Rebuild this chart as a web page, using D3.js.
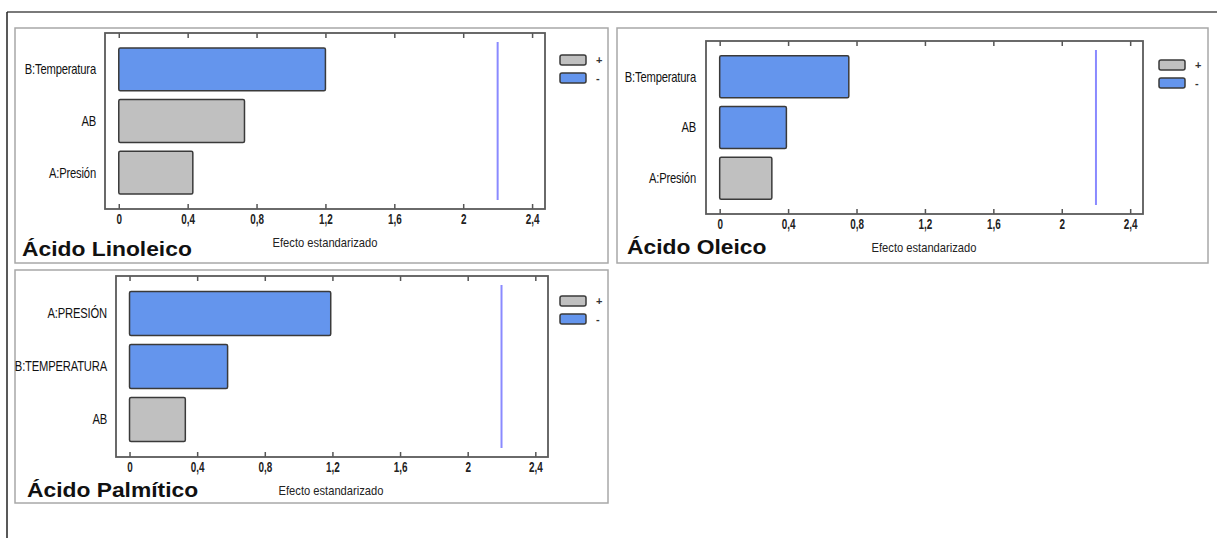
<!DOCTYPE html>
<html>
<head>
<meta charset="utf-8">
<script src="https://cdn.jsdelivr.net/npm/d3@7"></script>
<style>
  body { margin: 0; background: #fff; }
  text { font-family: "Liberation Sans", Arial, sans-serif; }
</style>
</head>
<body>
<div id="chart"></div>
<script>
// ---- data ----
const linoleicoTerms  = ["B:Temperatura", "AB", "A:Presión"];
const linoleicoValues = [1.20, 0.73, 0.43];
const linoleicoSigns  = ["-", "+", "+"];

const oleicoTerms  = ["B:Temperatura", "AB", "A:Presión"];
const oleicoValues = [0.755, 0.39, 0.305];
const oleicoSigns  = ["-", "-", "+"];

const palmiticoTerms  = ["A:PRESIÓN", "B:TEMPERATURA", "AB"];
const palmiticoValues = [1.19, 0.58, 0.33];
const palmiticoSigns  = ["-", "-", "+"];

const tickValues = [0, 0.4, 0.8, 1.2, 1.6, 2, 2.4];
const tickLabels = ["0", "0,4", "0,8", "1,2", "1,6", "2", "2,4"];
const criticalValue = 2.2;
const legendSigns = ["+", "-"];
const axisTitle = "Efecto estandarizado";

const colors = { "+": "#c0c0c0", "-": "#6495ed" };

// layout of each panel (pixels)
const panels = [
  { title: "Ácido Linoleico", terms: linoleicoTerms, values: linoleicoValues, signs: linoleicoSigns,
    box: [15, 28, 608, 263], plot: [105, 33, 545, 209], labelX: 96,
    titlePos: [22, 256], axisTitlePos: [325, 247], legend: [560, 55] },
  { title: "Ácido Oleico", terms: oleicoTerms, values: oleicoValues, signs: oleicoSigns,
    box: [617, 28, 1208, 263], plot: [706, 41, 1143, 214], labelX: 696,
    titlePos: [627, 254], axisTitlePos: [924, 252], legend: [1159, 60] },
  { title: "Ácido Palmítico", terms: palmiticoTerms, values: palmiticoValues, signs: palmiticoSigns,
    box: [15, 270, 608, 503], plot: [116, 276, 548, 457], labelX: 107,
    titlePos: [27, 497], axisTitlePos: [331, 495], legend: [560, 296] }
];

const W = 1217, H = 538;
const svg = d3.select("#chart").append("svg")
  .attr("width", W).attr("height", H);

// outer frame (top + left)
svg.append("line").attr("x1", 7).attr("y1", 12).attr("x2", W).attr("y2", 12)
  .attr("stroke", "#7a7a7a").attr("stroke-width", 2);
svg.append("line").attr("x1", 7).attr("y1", 12).attr("x2", 7).attr("y2", H)
  .attr("stroke", "#222").attr("stroke-width", 1.5);

panels.forEach(function(p) {
  const g = svg.append("g");
  const [bx0, by0, bx1, by1] = p.box;
  const [px0, py0, px1, py1] = p.plot;

  g.append("rect")
    .attr("x", bx0).attr("y", by0)
    .attr("width", bx1 - bx0).attr("height", by1 - by0)
    .attr("fill", "#fff").attr("stroke", "#a8a8a8").attr("stroke-width", 1.5);

  const x = d3.scaleLinear().domain([-0.08, 2.475]).range([px0, px1]);
  const y = d3.scaleBand().domain(p.terms).range([py0, py1])
    .paddingInner(0.17).paddingOuter(0.29);

  // bottom axis with inward ticks
  const xAxis = d3.axisBottom(x)
    .tickValues(tickValues)
    .tickFormat(function(d, i) { return tickLabels[i]; })
    .tickSize(-5).tickSizeOuter(0).tickPadding(4);
  const ax = g.append("g")
    .attr("transform", "translate(0," + py1 + ")")
    .call(xAxis);
  ax.select(".domain").remove();
  ax.selectAll("line").attr("stroke", "#555").attr("stroke-width", 1.5);
  ax.selectAll("text")
    .attr("transform", "scale(0.66,1)")
    .style("font-family", "Liberation Sans, Arial, sans-serif")
    .style("font-size", "15px").style("font-weight", "bold").attr("fill", "#222");

  const axTop = g.append("g")
    .attr("transform", "translate(0," + py0 + ")")
    .call(d3.axisTop(x).tickValues(tickValues).tickFormat("").tickSize(-5).tickSizeOuter(0));
  axTop.select(".domain").remove();
  axTop.selectAll("line").attr("stroke", "#555").attr("stroke-width", 1.5);

  // plot frame
  g.append("rect")
    .attr("x", px0).attr("y", py0)
    .attr("width", px1 - px0).attr("height", py1 - py0)
    .attr("fill", "none").attr("stroke", "#5a5a5a").attr("stroke-width", 1.8);

  // bars
  g.selectAll(".bar")
    .data(p.terms.map(function(t, i) { return { term: t, value: p.values[i], sign: p.signs[i] }; }))
    .enter().append("rect")
    .attr("class", "bar")
    .attr("x", x(0))
    .attr("y", function(d) { return y(d.term); })
    .attr("width", function(d) { return x(d.value) - x(0); })
    .attr("height", y.bandwidth())
    .attr("rx", 1.5)
    .attr("fill", function(d) { return colors[d.sign]; })
    .attr("stroke", "#3a3a3a").attr("stroke-width", 1.5);

  // category labels (condensed)
  g.selectAll(".cat")
    .data(p.terms)
    .enter().append("text")
    .attr("transform", function(d) {
      return "translate(" + p.labelX + "," + (y(d) + y.bandwidth() / 2) + ") scale(0.8,1)";
    })
    .attr("dy", "0.35em")
    .attr("text-anchor", "end")
    .style("font-size", "14px")
    .style("letter-spacing", "-0.2px")
    .attr("fill", "#111")
    .text(function(d) { return d; });

  // critical value line
  g.append("line")
    .attr("x1", x(criticalValue)).attr("x2", x(criticalValue))
    .attr("y1", py0 + 9).attr("y2", py1 - 9)
    .attr("stroke", "#8a8aff").attr("stroke-width", 2);

  // legend
  const lg = g.append("g").attr("transform", "translate(" + p.legend[0] + "," + p.legend[1] + ")");
  legendSigns.forEach(function(s, i) {
    lg.append("rect")
      .attr("x", 0).attr("y", i * 18)
      .attr("width", 26).attr("height", 10).attr("rx", 2)
      .attr("fill", colors[s]).attr("stroke", "#3a3a3a").attr("stroke-width", 1.5);
    lg.append("text")
      .attr("x", 36).attr("y", i * 18 + 5).attr("dy", "0.35em")
      .style("font-size", "11px").style("font-weight", "bold")
      .attr("fill", "#333")
      .text(s);
  });

  // axis title
  g.append("text")
    .attr("transform", "translate(" + p.axisTitlePos[0] + "," + p.axisTitlePos[1] + ") scale(0.86,1)")
    .attr("text-anchor", "middle")
    .style("font-size", "13px")
    .attr("fill", "#222")
    .text(axisTitle);

  // panel title
  g.append("text")
    .attr("transform", "translate(" + p.titlePos[0] + "," + p.titlePos[1] + ") scale(1.17,1)")
    .style("font-size", "19.5px").style("font-weight", "bold")
    .attr("fill", "#111")
    .text(p.title);
});
</script>
</body>
</html>
